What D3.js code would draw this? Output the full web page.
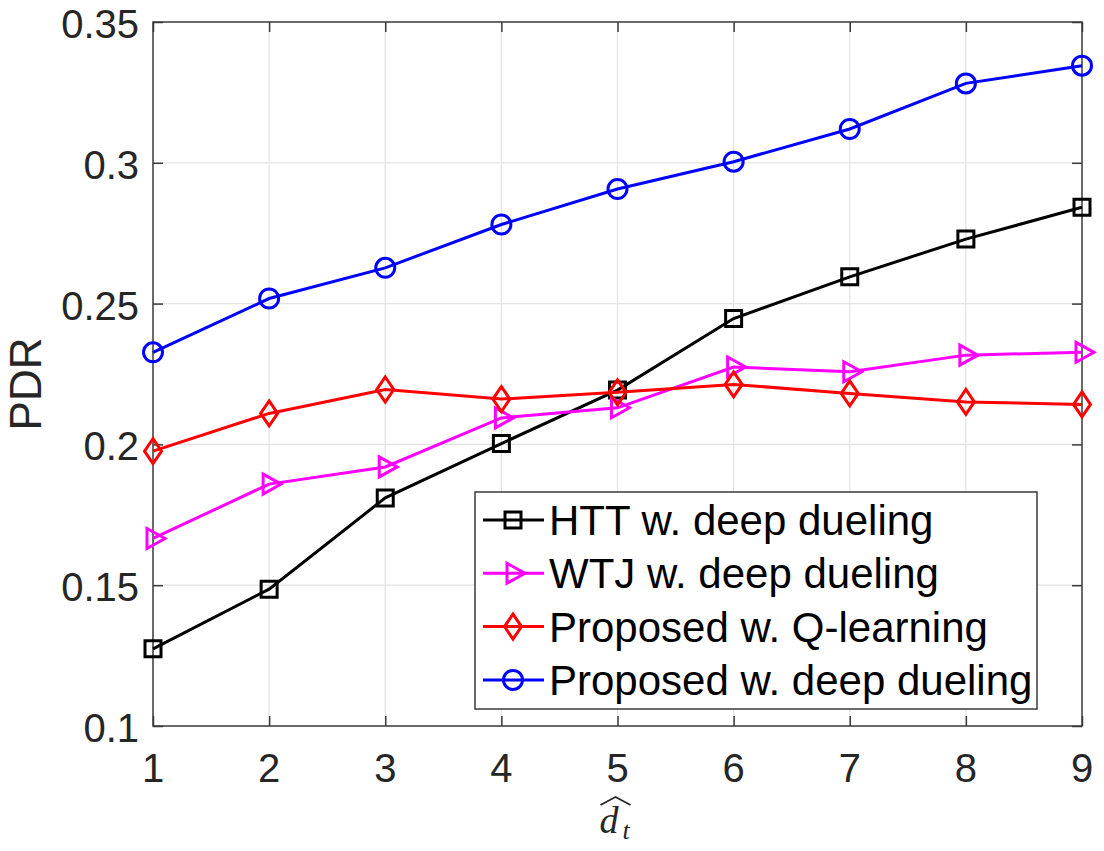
<!DOCTYPE html>
<html>
<head>
<meta charset="utf-8">
<script src="https://cdn.jsdelivr.net/npm/d3@7"></script>
<style>
    body { margin: 0; background: #fff; }
    svg { display: block; font-family: "Liberation Sans", Arial, Helvetica, sans-serif; }
    .tick-label { font-size: 40px; fill: #262626; }
    .legend-text { font-size: 42px; fill: #000; }
</style>
</head>
<body>
<div id="chart"></div>
<script>
// data
const dHat = [1, 2, 3, 4, 5, 6, 7, 8, 9];
const httDeep = [0.1274, 0.1486, 0.1810, 0.2003, 0.2193, 0.2447, 0.2595, 0.2729, 0.2842];
const wtjDeep = [0.1666, 0.1859, 0.1920, 0.2094, 0.2130, 0.2275, 0.2258, 0.2317, 0.2327];
const proposedQ = [0.1976, 0.2110, 0.2195, 0.2161, 0.2185, 0.2213, 0.2181, 0.2151, 0.2142];
const proposedDeep = [0.2327, 0.2518, 0.2627, 0.2781, 0.2907, 0.3004, 0.3120, 0.3282, 0.3345];
const yTicks = [0.1, 0.15, 0.2, 0.25, 0.3, 0.35];
const yTickLabels = ["0.1", "0.15", "0.2", "0.25", "0.3", "0.35"];

const series = [
    { name: "HTT w. deep dueling", values: httDeep, color: "#000000", marker: "square" },
    { name: "WTJ w. deep dueling", values: wtjDeep, color: "#ff00ff", marker: "triangle" },
    { name: "Proposed w. Q-learning", values: proposedQ, color: "#ff0000", marker: "diamond" },
    { name: "Proposed w. deep dueling", values: proposedDeep, color: "#0000ff", marker: "circle" }
];

const width = 1104,
    height = 851,
    margin = { left: 153, top: 22, right: 22, bottom: 125 };
const chartWidth = width - margin.left - margin.right;
const chartHeight = height - margin.top - margin.bottom;

const xScale = d3.scaleLinear().domain([1, 9]).range([0, chartWidth]);
const yScale = d3.scaleLinear().domain([0.1, 0.35]).range([chartHeight, 0]);

// marker shapes, centred on the point
const markerPath = {
    square: "M-8,-8H8V8H-8Z",
    triangle: "M-6,-10L12,0L-6,10Z",
    diamond: "M0,-12.5L8.5,0L0,12.5L-8.5,0Z"
};

function drawMarker(g, type, color) {
    if (type === "circle") {
        g.append("circle").attr("r", 9.5)
            .attr("fill", "none").attr("stroke", color).attr("stroke-width", 3);
    } else {
        g.append("path").attr("d", markerPath[type])
            .attr("fill", "none").attr("stroke", color).attr("stroke-width", 3)
            .attr("stroke-linejoin", "miter");
    }
}

const svg = d3.select("#chart").append("svg")
    .attr("width", width)
    .attr("height", height);

const g = svg.append("g")
    .attr("transform", "translate(" + margin.left + "," + margin.top + ")");

// grid
g.append("g").selectAll("line").data(dHat.slice(1, -1)).join("line")
    .attr("x1", d => xScale(d)).attr("x2", d => xScale(d))
    .attr("y1", 0).attr("y2", chartHeight)
    .attr("stroke", "#e3e3e3").attr("stroke-width", 1.2);
g.append("g").selectAll("line").data(yTicks.slice(1, -1)).join("line")
    .attr("x1", 0).attr("x2", chartWidth)
    .attr("y1", d => yScale(d)).attr("y2", d => yScale(d))
    .attr("stroke", "#e3e3e3").attr("stroke-width", 1.2);

// axes: box with inward ticks on all four sides
const axisColor = "#3a3a3a";
const tickLen = 10;
function styleAxis(sel) {
    sel.select(".domain").remove();
    sel.selectAll(".tick line").attr("stroke", axisColor).attr("stroke-width", 1.5);
    sel.selectAll(".tick text").remove();
}
g.append("g").attr("transform", "translate(0," + chartHeight + ")")
    .call(d3.axisBottom(xScale).tickValues(dHat).tickSizeInner(-tickLen).tickSizeOuter(0)).call(styleAxis);
g.append("g")
    .call(d3.axisTop(xScale).tickValues(dHat).tickSizeInner(-tickLen).tickSizeOuter(0)).call(styleAxis);
g.append("g")
    .call(d3.axisLeft(yScale).tickValues(yTicks).tickSizeInner(-tickLen).tickSizeOuter(0)).call(styleAxis);
g.append("g").attr("transform", "translate(" + chartWidth + ",0)")
    .call(d3.axisRight(yScale).tickValues(yTicks).tickSizeInner(-tickLen).tickSizeOuter(0)).call(styleAxis);

g.append("rect")
    .attr("width", chartWidth).attr("height", chartHeight)
    .attr("fill", "none").attr("stroke", axisColor).attr("stroke-width", 1.5);

// tick labels
g.append("g").selectAll("text").data(dHat).join("text")
    .attr("class", "tick-label")
    .attr("x", d => xScale(d))
    .attr("y", chartHeight + 56)
    .attr("text-anchor", "middle")
    .text(d => d);
g.append("g").selectAll("text").data(yTicks).join("text")
    .attr("class", "tick-label")
    .attr("x", -14)
    .attr("y", d => yScale(d) + 16)
    .attr("text-anchor", "end")
    .text((d, i) => yTickLabels[i]);

// axis titles
svg.append("text")
    .attr("transform", "translate(41," + (margin.top + chartHeight / 2 + 10) + ") rotate(-90)")
    .attr("text-anchor", "middle")
    .style("font-size", "44px")
    .attr("fill", "#262626")
    .text("PDR");

const xTitle = svg.append("g")
    .attr("transform", "translate(" + (margin.left + chartWidth / 2) + ",833)");
xTitle.append("text")
    .attr("x", -18).attr("y", 0)
    .style("font-family", "'Liberation Serif', 'DejaVu Serif', serif")
    .style("font-style", "italic")
    .style("font-size", "38px")
    .attr("fill", "#262626")
    .text("d");
xTitle.append("text")
    .attr("x", 5).attr("y", 6)
    .style("font-family", "'Liberation Serif', 'DejaVu Serif', serif")
    .style("font-style", "italic")
    .style("font-size", "26px")
    .attr("fill", "#262626")
    .text("t");
xTitle.append("path")
    .attr("d", "M-17,-28L-2,-36L13,-28")
    .attr("fill", "none").attr("stroke", "#262626").attr("stroke-width", 1.8);

// lines + markers
const line = d3.line()
    .x((d, i) => xScale(dHat[i]))
    .y(d => yScale(d));

series.forEach(s => {
    const sg = g.append("g");
    sg.append("path")
        .datum(s.values)
        .attr("d", line)
        .attr("fill", "none")
        .attr("stroke", s.color)
        .attr("stroke-width", 3);
    sg.selectAll("g.pt").data(s.values).join("g")
        .attr("class", "pt")
        .attr("transform", (d, i) => "translate(" + xScale(dHat[i]) + "," + yScale(d) + ")")
        .each(function() { drawMarker(d3.select(this), s.marker, s.color); });
});

// legend
const legend = svg.append("g").attr("transform", "translate(475,492)");
legend.append("rect")
    .attr("width", 562).attr("height", 217)
    .attr("fill", "#fff").attr("stroke", axisColor).attr("stroke-width", 1.5);
const rows = legend.selectAll("g.row").data(series).join("g")
    .attr("class", "row")
    .attr("transform", (d, i) => "translate(0," + (28 + i * 53.3) + ")");
rows.append("line")
    .attr("x1", 8).attr("x2", 69)
    .attr("stroke", d => d.color).attr("stroke-width", 3);
rows.append("g")
    .attr("transform", "translate(38,0)")
    .each(function(d) { drawMarker(d3.select(this), d.marker, d.color); });
rows.append("text")
    .attr("class", "legend-text")
    .attr("x", 74)
    .attr("y", 15)
    .text(d => d.name);
</script>
</body>
</html>
